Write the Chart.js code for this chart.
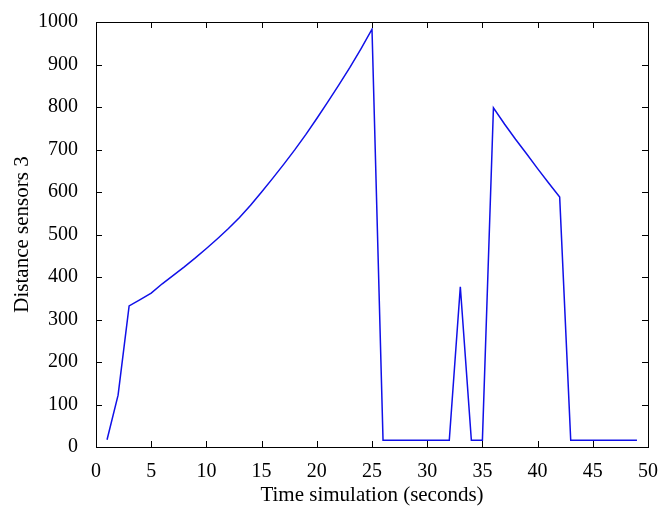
<!DOCTYPE html>
<html>
<head>
<meta charset="utf-8">
<script src="https://cdn.jsdelivr.net/npm/chart.js@4"></script>
<style>
	body { margin: 0; background: #ffffff; }
	#sensorChart { display: block; }
</style>
</head>
<body>
<canvas id="sensorChart" width="671" height="522"></canvas>
<script>
// time in seconds
var timeSec = [1, 2, 3, 4, 5, 6, 7, 8, 9, 10,
	11, 12, 13, 14, 15, 16, 17, 18, 19, 20,
	21, 22, 23, 24, 25, 26, 27, 28, 29, 30,
	31, 32, 33, 34, 35, 36, 37, 38, 39, 40,
	41, 42, 43, 44, 45, 46, 47, 48, 49];

// distance read by sensor 3
var distance = [17, 122, 332, 347, 362, 384, 404, 424, 445, 467,
	490, 514, 540, 569, 600, 632, 665, 699, 735, 773,
	812, 852, 893, 937, 983, 16, 16, 16, 16, 16,
	16, 16, 377, 16, 16, 798, 760, 724, 690, 655,
	621, 588, 16, 16, 16, 16, 16, 16, 16];

var xTicks = [0, 5, 10, 15, 20, 25, 30, 35, 40, 45, 50];
var yTicks = [0, 100, 200, 300, 400, 500, 600, 700, 800, 900, 1000];

var serif = "'Liberation Serif', 'DejaVu Serif', serif";

// box around the plot and ticks pointing inside, on all four sides
var boxTicks = {
	id: "boxTicks",
	afterDraw: function (chart) {
		var ctx = chart.ctx;
		var area = chart.chartArea;
		var xs = chart.scales.x;
		var ys = chart.scales.y;
		var len = 6;
		ctx.save();
		ctx.strokeStyle = "#000000";
		ctx.lineWidth = 1;
		ctx.beginPath();
		xTicks.forEach(function (v) {
			var px = Math.round(xs.getPixelForValue(v)) + 0.5;
			ctx.moveTo(px, area.bottom);
			ctx.lineTo(px, area.bottom - len);
			ctx.moveTo(px, area.top);
			ctx.lineTo(px, area.top + len);
		});
		yTicks.forEach(function (v) {
			var py = Math.round(ys.getPixelForValue(v)) + 0.5;
			ctx.moveTo(area.left, py);
			ctx.lineTo(area.left + len, py);
			ctx.moveTo(area.right, py);
			ctx.lineTo(area.right - len, py);
		});
		ctx.stroke();
		ctx.strokeRect(Math.round(area.left) + 0.5, Math.round(area.top) + 0.5,
			Math.round(area.right - area.left), Math.round(area.bottom - area.top));
		ctx.restore();
	}
};

var points = timeSec.map(function (t, i) {
	return { x: t, y: distance[i] };
});

function plainLabel(value) {
	return String(value);
}

var chartConfig = {
	type: "line",
	data: {
		datasets: [
			{
				label: "Distance sensors 3",
				data: points,
				borderColor: "#1010e8",
				borderWidth: 1.5,
				pointRadius: 0,
				tension: 0,
				fill: false,
			},
		],
	},
	options: {
		responsive: false,
		animation: false,
		layout: {
			padding: { left: 0, right: 23, top: 22, bottom: 0 },
		},
		plugins: {
			legend: { display: false },
			tooltip: { enabled: false },
		},
		scales: {
			x: {
				type: "linear",
				min: 0,
				max: 50,
				afterBuildTicks: function (scale) {
					scale.ticks = xTicks.map(function (v) { return { value: v }; });
				},
				afterFit: function (scale) { scale.height = 75; },
				grid: { display: false },
				border: { display: false },
				ticks: {
					color: "#000000",
					padding: 5,
					callback: plainLabel,
					font: { family: serif, size: 20 },
				},
				title: {
					display: true,
					text: "Time simulation (seconds)",
					color: "#000000",
					padding: { top: 0, bottom: 14 },
					font: { family: serif, size: 21 },
				},
			},
			y: {
				type: "linear",
				min: 0,
				max: 1000,
				afterBuildTicks: function (scale) {
					scale.ticks = yTicks.map(function (v) { return { value: v }; });
				},
				afterFit: function (scale) { scale.width = 96; },
				grid: { display: false },
				border: { display: false },
				ticks: {
					color: "#000000",
					padding: 10,
					callback: plainLabel,
					font: { family: serif, size: 20 },
				},
				title: {
					display: true,
					text: "Distance sensors 3",
					color: "#000000",
					padding: { top: 10, bottom: 0 },
					font: { family: serif, size: 21 },
				},
			},
		},
	},
	plugins: [boxTicks],
};

var chart = new Chart(document.getElementById("sensorChart"), chartConfig);
</script>
</body>
</html>
